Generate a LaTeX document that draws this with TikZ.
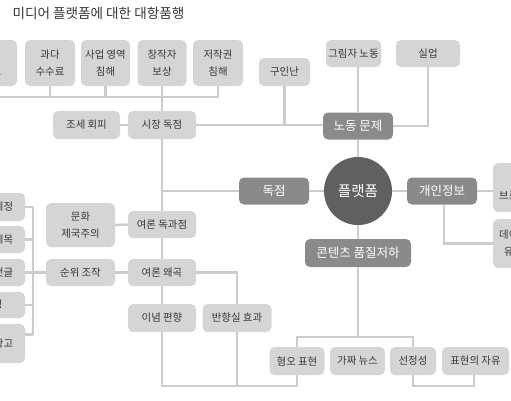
\documentclass[tikz,border=0pt]{standalone}
\usepackage{fontspec}
\setmainfont{Noto Sans CJK KR}
\definecolor{cPale}{RGB}{213,213,213}
\definecolor{cMid}{RGB}{138,138,138}
\definecolor{cHub}{RGB}{96,96,96}
\definecolor{cWire}{RGB}{204,204,204}
\definecolor{cText}{RGB}{55,55,55}

\begin{document}
\begin{tikzpicture}[x=1pt,y=-1pt,
    wire/.style={draw=cWire, line width=2.5pt},
    pale/.style={fill=cPale, text=cText, rounded corners=5pt, inner sep=0pt,
      align=center, font=\fontsize{10.4}{17}\selectfont},
    mid/.style={fill=cMid, text=white, rounded corners=5pt, inner sep=0pt,
      minimum height=27, font=\fontsize{12.5}{15}\selectfont},
    hub/.style={circle, fill=cHub, text=white, inner sep=0pt,
      minimum size=68, font=\fontsize{14.5}{17}\selectfont}]
  %
  \clip (0,0) rectangle (511,400);
  \fill[white] (0,0) rectangle (511,400);
  %
  \node[anchor=west, text=cText, font=\fontsize{13.6}{16}\selectfont] (title) at (9,13) {미디어 플랫폼에 대한 대항품행};
  %
  % centre
  \node[hub] (platform) at (358,191) {플랫폼};
  \node[mid, minimum width=70] (labour) at (358,126) {노동 문제};
  \node[mid, minimum width=70] (monopoly) at (274,191) {독점};
  \node[mid, minimum width=70] (privacy) at (442,191) {개인정보};
  \node[mid, minimum width=106, minimum height=28] (quality) at (358,253) {콘텐츠 품질저하};
  %
  % top row
  \node[pale, minimum width=82, minimum height=46] (abuse) at (-24,63) {우월적 지위\\남용 횡포로};
  \node[pale, minimum width=50, minimum height=46] (fee) at (50,63) {과다\\수수료};
  \node[pale, minimum width=49, minimum height=46] (business) at (105.5,63) {사업 영역\\침해};
  \node[pale, minimum width=49, minimum height=46] (creator) at (162,63) {창작자\\보상};
  \node[pale, minimum width=50, minimum height=46] (copyright) at (218,63) {저작권\\침해};
  \node[pale, minimum width=67, minimum height=28] (tax) at (86.5,125) {조세 회피};
  \node[pale, minimum width=68, minimum height=28] (market) at (162,125) {시장 독점};
  %
  % labour
  \node[pale, minimum width=51, minimum height=28] (hiring) at (284.5,72) {구인난};
  \node[pale, minimum width=55, minimum height=27] (shadow) at (353.5,53.5) {그림자 노동};
  \node[pale, minimum width=64, minimum height=27] (jobless) at (428,53.5) {실업};
  %
  % privacy
  \node[pale, minimum width=84, minimum height=49] (broker) at (535,187.5) {정보\\브로커 불법 거래};
  \node[pale, minimum width=84, minimum height=49] (leak) at (535,243.5) {데이터 무단 수집\\유출 및 오남용};
  %
  % opinion
  \node[pale, minimum width=68, minimum height=27] (oligopoly) at (162,224.5) {여론 독과점};
  \node[pale, minimum width=69, minimum height=44] (culture) at (80.5,225) {문화\\제국주의};
  \node[pale, minimum width=69, minimum height=27] (ranking) at (80.5,272.5) {순위 조작};
  \node[pale, minimum width=68, minimum height=27] (distort) at (162,272.5) {여론 왜곡};
  \node[pale, minimum width=68, minimum height=28] (bias) at (162,318) {이념 편향};
  \node[pale, minimum width=69, minimum height=28] (echo) at (237,318) {반향실 효과};
  %
  % left column
  \node[pale, minimum width=74, minimum height=28] (macro) at (-12,207) {매크로 계정};
  \node[pale, minimum width=74, minimum height=27] (clickbait) at (-12,239.5) {낚시성 제목};
  \node[pale, minimum width=74, minimum height=27] (comment) at (-12,272.5) {베스트 댓글};
  \node[pale, minimum width=74, minimum height=26] (abusing) at (-12,305) {어뷰징};
  \node[pale, minimum width=74, minimum height=39] (advert) at (-12,343.5) {기사형 광고};
  %
  % bottom row
  \node[pale, minimum width=55, minimum height=28] (hate) at (297,361) {혐오 표현};
  \node[pale, minimum width=55, minimum height=28] (fake) at (357.5,361) {가짜 뉴스};
  \node[pale, minimum width=46, minimum height=28] (lurid) at (413,361) {선정성};
  \node[pale, minimum width=67, minimum height=28] (freedom) at (475.5,361) {표현의 자유};
  %
  % bus levels
  \coordinate (busT) at (0,97);
  \coordinate (busL) at (33,0);
  \coordinate (busQ) at (0,337);
  \coordinate (busB) at (0,386);
  %
  % connectors
  \draw[wire] (abuse.south) -- (abuse.south |- busT) -- (copyright.south |- busT) -- (copyright.south);
  \draw[wire] (fee.south) -- (fee.south |- busT);
  \draw[wire] (business.south) -- (business.south |- busT);
  \draw[wire] (creator.south) -- (market.north);
  \draw[wire] (tax.east) -- (market.west);
  \draw[wire] (market.east) -- (market.east -| labour.west);
  \draw[wire] (hiring.south) -- (hiring.south |- market.east);
  \draw[wire] (labour.north) -- (labour.north |- shadow.south);
  \draw[wire] (jobless.south) |- (labour.east);
  \draw[wire] (labour.south) -- (platform.north);
  \draw[wire] (platform.south) -- (quality.north);
  \draw[wire] (monopoly.east) -- (platform.west);
  \draw[wire] (platform.east) -- (privacy.west);
  \draw[wire] (privacy.east) -- (privacy.east -| broker.west);
  \draw[wire] ([xshift=2pt]privacy.south) |- (leak.west);
  \draw[wire] (market.south) -- (oligopoly.north);
  \draw[wire] (monopoly.west) -- (monopoly.west -| market.south);
  \draw[wire] (culture.east) -- (oligopoly.west);
  \draw[wire] (oligopoly.south) -- (distort.north);
  \draw[wire] (comment.east) -- (ranking.west);
  \draw[wire] (ranking.east) -- (distort.west);
  \draw[wire] (macro.east -| busL) -- ([yshift=9pt]advert.east -| busL);
  \foreach \b in {macro,clickbait,abusing}
    \draw[wire] (\b.east) -- (\b.east -| busL);
  \draw[wire] ([yshift=9pt]advert.east) -- ([yshift=9pt]advert.east -| busL);
  \draw[wire] (distort.east) -| (echo.north);
  \draw[wire] (distort.south) -- (bias.north);
  \draw[wire] (bias.south) -- (bias.south |- busB) -- (hate.south |- busB) -- (hate.south);
  \draw[wire] (echo.south) -- (echo.south |- busB);
  \draw[wire] (quality.south) -- (quality.south |- busQ);
  \draw[wire] (hate.north) -- (hate.north |- busQ) -- (lurid.north |- busQ) -- (lurid.north);
  \draw[wire] (lurid.south) -- (lurid.south |- busB) -- ([xshift=-1.5pt]freedom.south |- busB) -- ([xshift=-1.5pt]freedom.south);
\end{tikzpicture}
\end{document}
